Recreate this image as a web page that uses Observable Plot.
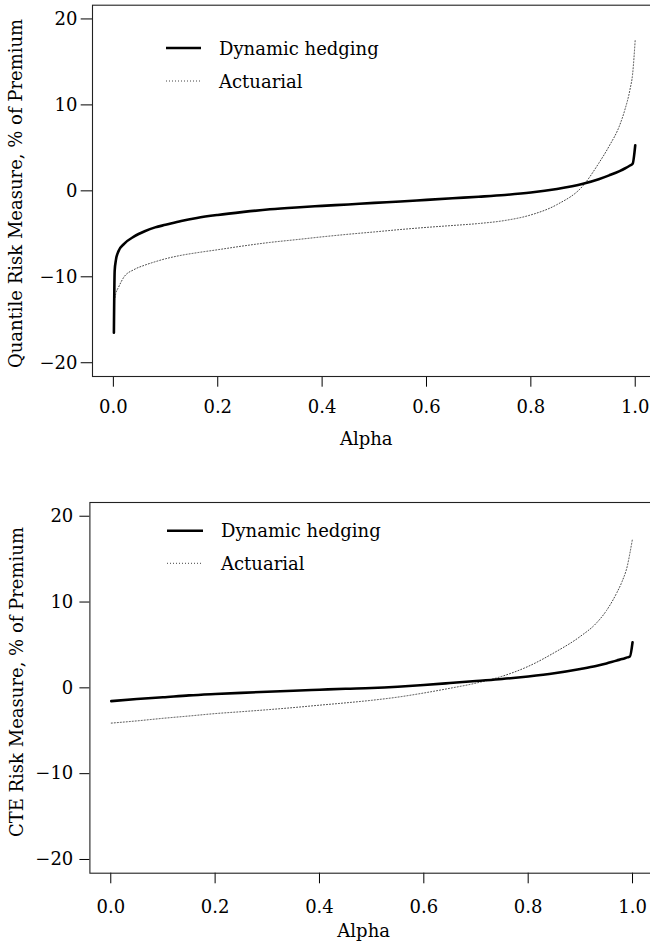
<!DOCTYPE html>
<html><head><meta charset="utf-8">
<script src="https://cdn.jsdelivr.net/npm/d3@7"></script>
<script src="https://cdn.jsdelivr.net/npm/@observablehq/plot@0.6"></script>
<style>
html,body{margin:0;padding:0;background:#fff;overflow:hidden;width:650px;height:950px}
#chart svg{display:block;overflow:hidden}
</style>
</head><body><div id="chart"></div>
<script>
// ---- data ----
const quantileAlpha = [0.001,0.0025,0.005,0.01,0.02,0.04,0.06,0.08,0.1,0.13,0.16,0.2,0.25,0.3,0.35,0.4,0.45,0.5,0.55,0.6,0.65,0.7,0.75,0.8,0.85,0.9,0.93,0.95,0.97,0.98,0.99,0.995,1.0];
const quantileDynamic = [-16.5,-9.3,-8.0,-7.0,-6.2,-5.3,-4.7,-4.25,-3.95,-3.5,-3.15,-2.8,-2.45,-2.15,-1.93,-1.75,-1.58,-1.4,-1.24,-1.05,-0.86,-0.68,-0.48,-0.2,0.22,0.82,1.35,1.8,2.3,2.6,2.95,3.15,5.3];
const quantileActuarial = [-13.5,-12.6,-11.9,-11.2,-10.05,-9.15,-8.65,-8.25,-7.9,-7.5,-7.2,-6.85,-6.4,-6.0,-5.68,-5.35,-5.05,-4.78,-4.5,-4.25,-4.03,-3.8,-3.45,-2.8,-1.6,0.6,3.2,5.2,7.6,9.4,11.8,13.6,17.6];

const cteAlpha = [0.001,0.05,0.1,0.15,0.2,0.25,0.3,0.35,0.4,0.45,0.5,0.55,0.6,0.65,0.7,0.75,0.8,0.85,0.9,0.93,0.95,0.97,0.98,0.99,0.995,1.0];
const cteDynamic = [-1.55,-1.3,-1.1,-0.88,-0.72,-0.58,-0.45,-0.33,-0.22,-0.11,-0.02,0.13,0.33,0.56,0.8,1.03,1.33,1.7,2.2,2.55,2.85,3.2,3.35,3.55,3.65,5.3];
const cteActuarial = [-4.11,-3.85,-3.55,-3.28,-3.0,-2.78,-2.55,-2.3,-2.02,-1.75,-1.45,-1.08,-0.6,-0.05,0.55,1.35,2.5,4.1,6.0,7.5,9.0,11.1,12.4,14.2,15.7,17.4];

const seriesNames = ["Dynamic hedging", "Actuarial"];
const xTicks = [0, 0.2, 0.4, 0.6, 0.8, 1.0];
const yTicks = [-20, -10, 0, 10, 20];
const xTitle = "Alpha";
const yTitles = ["Quantile Risk Measure, % of Premium", "CTE Risk Measure, % of Premium"];

// ---- styling / layout ----
const FONT = "DejaVu Serif";
const seriesStyle = [
  {stroke: "#000", strokeWidth: 2.6},
  {stroke: "#444", strokeWidth: 1, strokeDasharray: "1,2"}
];

function toRows(alpha, values, name) {
  return alpha.map((a, i) => ({alpha: a, value: values[i], series: name}));
}

function panel(cfg) {
  const dyn = toRows(cfg.alpha, cfg.dynamic, seriesNames[0]);
  const act = toRows(cfg.alpha, cfg.actuarial, seriesNames[1]);
  const plot = Plot.plot({
    width: 650,
    height: cfg.height,
    marginLeft: cfg.ml,
    marginRight: cfg.mr,
    marginTop: cfg.mt,
    marginBottom: cfg.mb,
    style: {fontFamily: FONT, fontSize: "18px", color: "#000", background: "#fff", overflow: "hidden"},
    x: {domain: [-0.04, 1.04], ticks: xTicks, tickFormat: d3.format(".1f"), tickSize: cfg.xTickSize, tickPadding: cfg.xTickPad, label: null},
    y: {domain: [-21.6, 21.6], ticks: yTicks, tickFormat: d => d < 0 ? "\u2212" + Math.abs(d) : String(d), tickSize: cfg.yTickSize, tickPadding: cfg.yTickPad, label: null},
    marks: [
      Plot.frame({stroke: "#222", strokeWidth: 1.1}),
      Plot.line(act, {x: "alpha", y: "value", curve: "monotone-x", ...seriesStyle[1]}),
      Plot.line(dyn, {x: "alpha", y: "value", curve: "monotone-x", ...seriesStyle[0]}),
      Plot.text([xTitle], {text: d => d, frameAnchor: "bottom", lineAnchor: "bottom", dx: cfg.xTitleDx, dy: cfg.xTitleDy, fontSize: 18}),
      Plot.text([cfg.yTitle], {text: d => d, frameAnchor: "left", lineAnchor: "bottom", rotate: -90, textAnchor: "middle", dx: cfg.yTitleDx, dy: cfg.yTitleDy, fontSize: 18})
    ]
  });
  // legend
  const svg = d3.select(plot);
  const g = svg.append("g").attr("font-family", FONT).attr("font-size", 18).attr("fill", "#000").attr("text-anchor", "start");
  seriesNames.forEach((name, i) => {
    const y = cfg.legY[i];
    const st = seriesStyle[i];
    g.append("line")
      .attr("x1", cfg.legX1).attr("x2", cfg.legX2).attr("y1", y).attr("y2", y)
      .attr("stroke", st.stroke).attr("stroke-width", st.strokeWidth)
      .attr("stroke-dasharray", st.strokeDasharray || null);
    g.append("text").attr("x", cfg.legTextX).attr("y", y + 6.5).attr("text-anchor", "start").text(name);
  });
  return plot;
}

const root = document.getElementById("chart");
root.appendChild(panel({
  alpha: quantileAlpha, dynamic: quantileDynamic, actuarial: quantileActuarial, yTitle: yTitles[0],
  height: 470, ml: 92, mr: -5.6, mt: 4.7, mb: 94,
  xTickSize: 10.7, xTickPad: 13.5, yTickSize: 11.3, yTickPad: 3.7,
  xTitleDx: -8, xTitleDy: 68, yTitleDx: -71, yTitleDy: 2.6,
  legY: [48, 81], legX1: 166, legX2: 201, legTextX: 219
}));
root.appendChild(panel({
  alpha: cteAlpha, dynamic: cteDynamic, actuarial: cteActuarial, yTitle: yTitles[1],
  height: 480, ml: 89.4, mr: -2.9, mt: 32, mb: 77.3,
  xTickSize: 10.6, xTickPad: 16.7, yTickSize: 10, yTickPad: 6.6,
  xTitleDx: -8, xTitleDy: 63.5, yTitleDx: -66.5, yTitleDy: -5.8,
  legY: [60.7, 93.3], legX1: 167, legX2: 203, legTextX: 221
}));
</script>
</body></html>
